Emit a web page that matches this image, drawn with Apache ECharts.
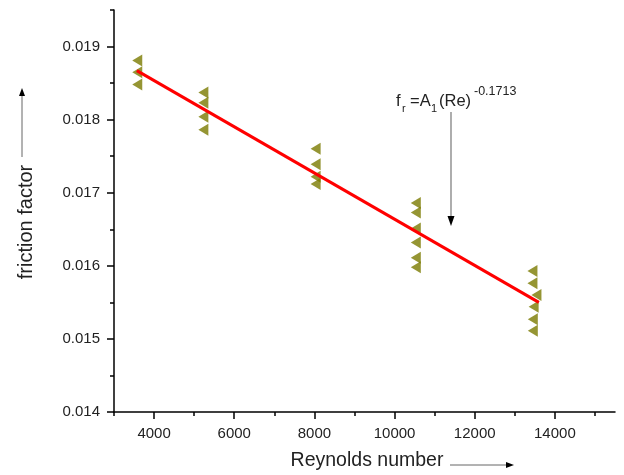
<!DOCTYPE html>
<html>
<head>
<meta charset="utf-8">
<title>Friction factor vs Reynolds number</title>
<script src="https://cdn.jsdelivr.net/npm/echarts@6/dist/echarts.min.js"></script>
<style>
  html, body { margin: 0; padding: 0; background: #ffffff; }
  #chart { width: 624px; height: 475px; }
</style>
</head>
<body>
<div id="chart"></div>
<script>
// Measured points: Reynolds number and friction factor
const reynoldsNumber = [
  3580, 3580, 3580,
  5230, 5230, 5230, 5230,
  8030, 8030, 8030, 8030,
  10530, 10530, 10530, 10530, 10530, 10530,
  13440, 13440, 13540, 13470, 13450, 13450
];
const frictionFactor = [
  0.01881, 0.01865, 0.01848,
  0.01837, 0.01823, 0.01804, 0.01786,
  0.01760, 0.01739, 0.01722, 0.01712,
  0.01686, 0.01673, 0.01651, 0.01632, 0.01611, 0.01598,
  0.01593, 0.01576, 0.01560, 0.01544, 0.01527, 0.01511
];

// Correlation line end points
const fitRe = [3570, 13600];
const fitFriction = [0.01867, 0.01550];

// Axis ticks
const xMajorTicks = [4000, 6000, 8000, 10000, 12000, 14000];
const xMinorTicks = [3000, 5000, 7000, 9000, 11000, 13000, 15000];
const yMajorTicks = [0.014, 0.015, 0.016, 0.017, 0.018, 0.019];
const yMinorTicks = [0.0145, 0.0155, 0.0165, 0.0175, 0.0185, 0.0195];

const FONT = '"Liberation Sans", Arial, sans-serif';
const TEXT = '#222222';

const points = reynoldsNumber.map((re, i) => [re, frictionFactor[i]]);
const fitLine = fitRe.map((re, i) => [re, fitFriction[i]]);

const chart = echarts.init(document.getElementById('chart'), null, { renderer: 'canvas' });

const axisLineStyle = { color: '#000000', width: 1.5 };

chart.setOption({
  animation: false,
  backgroundColor: '#ffffff',
  grid: { left: 114, top: 10, width: 501, height: 402, containLabel: false },
  xAxis: [
    {
      type: 'value', min: 3000, max: 15500,
      axisLine: { show: true, onZero: false, lineStyle: axisLineStyle },
      axisTick: { show: true, inside: false, length: 7, customValues: xMajorTicks, lineStyle: axisLineStyle },
      axisLabel: { show: true, margin: 14, customValues: xMajorTicks, color: TEXT, fontSize: 15, fontFamily: FONT,
                   formatter: v => String(Math.round(v)) },
      splitLine: { show: false }
    },
    {
      type: 'value', min: 3000, max: 15500, position: 'bottom',
      axisLine: { show: false },
      axisTick: { show: true, inside: false, length: 4, customValues: xMinorTicks, lineStyle: axisLineStyle },
      axisLabel: { show: false },
      splitLine: { show: false }
    }
  ],
  yAxis: [
    {
      type: 'value', min: 0.014, max: 0.0195,
      axisLine: { show: true, onZero: false, lineStyle: axisLineStyle },
      axisTick: { show: true, inside: false, length: 7, customValues: yMajorTicks, lineStyle: axisLineStyle },
      axisLabel: { show: true, margin: 14, customValues: yMajorTicks, color: TEXT, fontSize: 15, fontFamily: FONT,
                   formatter: v => v.toFixed(3) },
      splitLine: { show: false }
    },
    {
      type: 'value', min: 0.014, max: 0.0195, position: 'left',
      axisLine: { show: false },
      axisTick: { show: true, inside: false, length: 4, customValues: yMinorTicks, lineStyle: axisLineStyle },
      axisLabel: { show: false },
      splitLine: { show: false }
    }
  ],
  series: [
    {
      name: 'friction factor',
      type: 'scatter',
      data: points,
      symbol: 'triangle',
      symbolRotate: 90,
      symbolSize: [12, 10],
      itemStyle: { color: '#7a7a00' },
      z: 2
    },
    {
      name: 'correlation',
      type: 'line',
      data: fitLine,
      showSymbol: false,
      symbol: 'none',
      lineStyle: { color: '#ff0000', width: 3 },
      z: 3
    }
  ],
  graphic: [
    // y-axis title with arrow
    { type: 'text', x: 26, y: 222, rotation: Math.PI / 2,
      style: { text: 'friction factor', font: '20px ' + FONT, fill: TEXT, align: 'center', verticalAlign: 'middle' } },
    { type: 'line', shape: { x1: 22, y1: 157, x2: 22, y2: 95 }, style: { stroke: '#666666', lineWidth: 1 } },
    { type: 'polygon', shape: { points: [[22, 88], [19, 96], [25, 96]] }, style: { fill: '#000000' } },

    // x-axis title with arrow
    { type: 'text', x: 367, y: 461,
      style: { text: 'Reynolds number', font: '19.5px ' + FONT, fill: TEXT, align: 'center', verticalAlign: 'middle' } },
    { type: 'line', shape: { x1: 450, y1: 465, x2: 507, y2: 465 }, style: { stroke: '#666666', lineWidth: 1 } },
    { type: 'polygon', shape: { points: [[514, 465], [506, 462], [506, 468]] }, style: { fill: '#000000' } },

    // correlation label: f_r = A_1 (Re)^-0.1713
    { type: 'text', x: 396, y: 101, style: { text: 'f', font: '16.5px ' + FONT, fill: TEXT, align: 'left', verticalAlign: 'middle' } },
    { type: 'text', x: 402, y: 109, style: { text: 'r', font: '11px ' + FONT, fill: TEXT, align: 'left', verticalAlign: 'middle' } },
    { type: 'text', x: 410, y: 101, style: { text: '=A', font: '16.5px ' + FONT, fill: TEXT, align: 'left', verticalAlign: 'middle' } },
    { type: 'text', x: 431, y: 109, style: { text: '1', font: '11px ' + FONT, fill: TEXT, align: 'left', verticalAlign: 'middle' } },
    { type: 'text', x: 439, y: 101, style: { text: '(Re)', font: '16.5px ' + FONT, fill: TEXT, align: 'left', verticalAlign: 'middle' } },
    { type: 'text', x: 474, y: 92, style: { text: '-0.1713', font: '12.5px ' + FONT, fill: TEXT, align: 'left', verticalAlign: 'middle' } },

    // pointer from the label down to the line
    { type: 'line', shape: { x1: 451, y1: 112, x2: 451, y2: 218 }, style: { stroke: '#777777', lineWidth: 1.2 } },
    { type: 'polygon', shape: { points: [[451, 226], [447.5, 216], [454.5, 216]] }, style: { fill: '#000000' } }
  ]
});
</script>
</body>
</html>
